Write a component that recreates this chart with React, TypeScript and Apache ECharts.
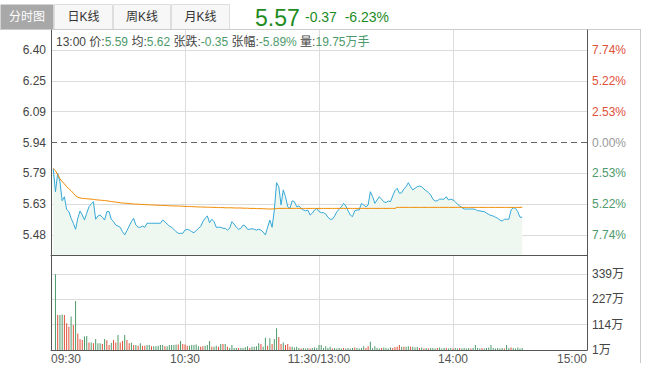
import React, { useEffect, useRef } from 'react';
import * as echarts from 'echarts';

const prevClose = 5.94;
const lastPriceText = '5.57';
const changeText = '-0.37  -6.23%';
const tabLabels = ['分时图', '日K线', '周K线', '月K线'];
const infoParts = [
  ['13:00 价:', '5.59'],
  [' 均:', '5.62'],
  [' 张跌:', '-0.35'],
  [' 张幅:', '-5.89%'],
  [' 量:', '19.75万手'],
];

const priceTickValues = [6.4, 6.2467, 6.0933, 5.94, 5.7867, 5.6333, 5.48];
const priceTickLabels = ['6.40', '6.25', '6.09', '5.94', '5.79', '5.63', '5.48'];
const pctTickLabels = ['7.74%', '5.22%', '2.53%', '0.00%', '2.53%', '5.22%', '7.74%'];
const volTickValues = [1, 114, 227, 339];
const volTickLabels = ['1万', '114万', '227万', '339万'];
const timeTickValues = [0, 60, 120, 180, 240];
const timeTickLabels = ['09:30', '10:30', '11:30/13:00', '14:00', '15:00'];

// minute index of first point = 1
const prices = [
  5.81, 5.695, 5.787, 5.745, 5.65, 5.67, 5.607, 5.596, 5.563, 5.538,
  5.508, 5.563, 5.599, 5.579, 5.554, 5.588, 5.62, 5.634, 5.645, 5.558,
  5.574, 5.579, 5.568, 5.554, 5.596, 5.596, 5.558, 5.546, 5.529, 5.524,
  5.518, 5.496, 5.48, 5.501, 5.524, 5.546, 5.563, 5.529, 5.518, 5.518,
  5.524, 5.518, 5.538, 5.538, 5.538, 5.538, 5.538, 5.538, 5.538, 5.554,
  5.546, 5.534, 5.524, 5.518, 5.508, 5.496, 5.488, 5.488, 5.488, 5.504,
  5.508, 5.504, 5.496, 5.491, 5.501, 5.513, 5.521, 5.546, 5.563, 5.574,
  5.541, 5.558, 5.546, 5.518, 5.518, 5.518, 5.513, 5.513, 5.504, 5.513,
  5.546, 5.534, 5.518, 5.508, 5.513, 5.529, 5.524, 5.508, 5.508, 5.511,
  5.508, 5.504, 5.508, 5.504, 5.494, 5.48, 5.518, 5.554, 5.518, 5.604,
  5.74, 5.72, 5.629, 5.704, 5.67, 5.62, 5.612, 5.65, 5.645, 5.62,
  5.624, 5.612, 5.604, 5.6, 5.604, 5.579, 5.588, 5.604, 5.612, 5.596,
  5.591, 5.591, 5.584, 5.568, 5.558, 5.558, 5.574, 5.596, 5.607, 5.62,
  5.637, 5.624, 5.6, 5.579, 5.571, 5.6, 5.604, 5.604, 5.637, 5.629,
  5.62, 5.629, 5.695, 5.67, 5.637, 5.654, 5.67, 5.658, 5.645, 5.641,
  5.649, 5.645, 5.674, 5.7, 5.712, 5.687, 5.69, 5.708, 5.72, 5.74,
  5.72, 5.704, 5.712, 5.72, 5.723, 5.72, 5.708, 5.7, 5.691, 5.679,
  5.658, 5.649, 5.65, 5.658, 5.658, 5.658, 5.67, 5.654, 5.658, 5.654,
  5.645, 5.633, 5.624, 5.616, 5.609, 5.609, 5.609, 5.609, 5.609, 5.607,
  5.6, 5.6, 5.597, 5.596, 5.588, 5.582, 5.577, 5.574, 5.568, 5.563,
  5.554, 5.549, 5.558, 5.558, 5.558, 5.604, 5.615, 5.612, 5.596, 5.568,
  5.568,
];

const avgPrices = [
  5.81, 5.8, 5.78, 5.76, 5.745, 5.735, 5.72, 5.71, 5.7, 5.688,
  5.675, 5.668, 5.664, 5.662, 5.661, 5.66, 5.659, 5.658, 5.657, 5.655,
  5.654, 5.653, 5.652, 5.651, 5.65, 5.648, 5.646, 5.645, 5.643, 5.642,
  5.64, 5.639, 5.638, 5.637, 5.636, 5.635, 5.634, 5.633, 5.633, 5.632,
  5.631, 5.631, 5.63, 5.63, 5.629, 5.629, 5.628, 5.628, 5.627, 5.627,
  5.626, 5.626, 5.625, 5.625, 5.624, 5.624, 5.624, 5.623, 5.623, 5.622,
  5.622, 5.621, 5.621, 5.62, 5.62, 5.619, 5.619, 5.619, 5.618, 5.618,
  5.618, 5.617, 5.617, 5.617, 5.616, 5.616, 5.616, 5.615, 5.615, 5.615,
  5.615, 5.614, 5.614, 5.614, 5.614, 5.613, 5.613, 5.613, 5.612, 5.612,
  5.612, 5.611, 5.611, 5.611, 5.61, 5.61, 5.609, 5.609, 5.609, 5.61,
  5.611, 5.612, 5.612, 5.612, 5.612, 5.612, 5.612, 5.612, 5.612, 5.612,
  5.612, 5.612, 5.612, 5.612, 5.612, 5.612, 5.612, 5.612, 5.612, 5.612,
  5.612, 5.612, 5.612, 5.612, 5.612, 5.612, 5.612, 5.612, 5.612, 5.612,
  5.612, 5.612, 5.612, 5.612, 5.612, 5.612, 5.612, 5.612, 5.612, 5.612,
  5.612, 5.612, 5.612, 5.612, 5.612, 5.612, 5.612, 5.612, 5.612, 5.612,
  5.612, 5.612, 5.612, 5.612, 5.617, 5.617, 5.617, 5.617, 5.617, 5.617,
  5.617, 5.617, 5.617, 5.617, 5.617, 5.617, 5.617, 5.617, 5.617, 5.617,
  5.617, 5.617, 5.617, 5.617, 5.617, 5.617, 5.617, 5.617, 5.617, 5.617,
  5.617, 5.617, 5.617, 5.617, 5.617, 5.617, 5.617, 5.617, 5.617, 5.617,
  5.617, 5.617, 5.617, 5.617, 5.617, 5.617, 5.617, 5.617, 5.617, 5.617,
  5.617, 5.617, 5.617, 5.617, 5.617, 5.617, 5.617, 5.617, 5.617, 5.617,
  5.617,
];

// volume in 万, per minute (first = minute 1)
const volumes = [
  0, 339, 157, 157, 160, 157, 120, 105, 150, 113,
  220, 75, 50, 46, 61, 64, 35, 35, 31, 50,
  31, 31, 28, 50, 44, 23, 33, 46, 35, 68,
  35, 41, 68, 46, 31, 33, 23, 23, 20, 31,
  20, 20, 23, 23, 18, 18, 18, 20, 23, 23,
  18, 18, 23, 23, 23, 25, 25, 41, 28, 25,
  20, 20, 23, 23, 25, 18, 15, 18, 20, 23,
  41, 15, 15, 20, 15, 28, 28, 28, 15, 10,
  23, 10, 10, 10, 10, 10, 13, 18, 10, 16,
  16, 18, 31, 28, 15, 56, 20, 53, 28, 50,
  98, 59, 28, 35, 23, 28, 16, 16, 12, 16,
  10, 8, 10, 8, 10, 8, 10, 12, 10, 23,
  23, 10, 18, 10, 15, 8, 10, 8, 10, 8,
  10, 8, 10, 8, 10, 12, 10, 8, 10, 18,
  10, 18, 38, 10, 18, 10, 8, 10, 12, 10,
  8, 12, 10, 14, 15, 23, 15, 15, 15, 18,
  15, 15, 12, 14, 10, 12, 8, 10, 8, 10,
  10, 8, 10, 12, 8, 10, 10, 8, 10, 8,
  10, 8, 10, 8, 10, 8, 10, 8, 10, 23,
  10, 8, 10, 8, 10, 12, 23, 10, 8, 10,
  8, 10, 8, 23, 10, 12, 10, 8, 12, 8,
  10,
];
// 1 = up (red), 0 = down (green)
const volumeUp = [
  0, 0, 1, 0, 0, 1, 1, 1, 0, 1,
  0, 1, 1, 1, 0, 0, 1, 0, 1, 0,
  0, 0, 1, 0, 1, 1, 0, 1, 1, 0,
  1, 1, 0, 1, 1, 0, 1, 0, 1, 0,
  1, 1, 0, 0, 1, 0, 0, 0, 0, 0,
  1, 0, 0, 0, 0, 0, 1, 0, 1, 1,
  1, 0, 0, 0, 0, 0, 1, 1, 0, 0,
  0, 1, 0, 0, 1, 0, 1, 0, 1, 0,
  0, 0, 0, 1, 0, 0, 0, 0, 1, 0,
  0, 0, 0, 1, 0, 0, 1, 0, 1, 0,
  0, 1, 1, 0, 1, 1, 1, 0, 0, 0,
  0, 1, 0, 0, 0, 1, 0, 0, 0, 0,
  0, 0, 0, 0, 0, 1, 0, 0, 0, 0,
  1, 0, 0, 0, 0, 1, 0, 0, 0, 0,
  1, 1, 0, 0, 0, 0, 0, 1, 0, 0,
  0, 0, 1, 1, 1, 1, 0, 1, 0, 0,
  1, 0, 0, 0, 1, 0, 1, 0, 1, 0,
  0, 0, 1, 0, 0, 0, 1, 0, 0, 1,
  0, 0, 1, 0, 0, 0, 0, 1, 0, 0,
  0, 0, 1, 0, 0, 0, 0, 0, 0, 0,
  0, 0, 1, 0, 0, 1, 0, 0, 0, 0,
  0,
];

const FONT = "Arial, 'Liberation Sans', 'Noto Sans CJK SC', sans-serif";
const GREEN = '#4e9a6b';
const RED = '#e0513a';
const BIG_GREEN = '#1f8c1f';

function nearestIndex(list: number[], v: number) {
  let best = 0;
  for (let k = 1; k < list.length; k++) {
    if (Math.abs(list[k] - v) < Math.abs(list[best] - v)) best = k;
  }
  return best;
}

export default function App() {
  const ref = useRef<HTMLDivElement>(null);
  useEffect(() => {
    if (!ref.current) return;
    const chart = echarts.init(ref.current, undefined, { renderer: 'svg' });
    const yMin = 5.38;
    const yMax = 6.5;
    const gridTicks = priceTickValues.filter((v) => v !== prevClose);

    const tabWidths = [54, 59, 58, 59];
    const tabGraphics: any[] = [];
    let tx = 0;
    tabLabels.forEach((t, k) => {
      const w = tabWidths[k];
      const active = k === 0;
      tabGraphics.push({
        type: 'rect',
        shape: { x: tx + 0.5, y: 4.5, width: w - 1, height: 25 },
        style: active ? { fill: '#a8a8a8' } : { fill: '#f7f7f7', stroke: '#dedede', lineWidth: 1 },
      });
      tabGraphics.push({
        type: 'text',
        x: tx + w / 2,
        y: 17,
        style: {
          text: t,
          fill: active ? '#ffffff' : '#333333',
          font: `12px ${FONT}`,
          align: 'center',
          verticalAlign: 'middle',
        },
      });
      tx += w;
    });

    let richText = '';
    infoParts.forEach(([l, v]) => {
      richText += `{l|${l}}{v|${v}}`;
    });

    const option: any = {
      animation: false,
      textStyle: { fontFamily: FONT },
      grid: [
        { left: 51, top: 30, width: 536, height: 225 },
        { left: 51, top: 255, width: 536, height: 95 },
      ],
      xAxis: [
        {
          gridIndex: 0,
          type: 'value',
          min: 0,
          max: 240,
          interval: 60,
          axisLine: { show: true, onZero: false, lineStyle: { color: '#555' } },
          axisTick: { show: false },
          axisLabel: { show: false },
          splitLine: { show: true, lineStyle: { color: '#dcdcdc' } },
        },
        {
          gridIndex: 1,
          type: 'value',
          min: 0,
          max: 240,
          interval: 60,
          axisLine: { show: true, onZero: false, lineStyle: { color: '#555' } },
          axisTick: { show: false },
          axisLabel: {
            show: true,
            color: '#555',
            fontSize: 12,
            margin: 3,
            showMinLabel: true,
            showMaxLabel: true,
            alignMinLabel: 'left',
            alignMaxLabel: 'right',
            formatter: (v: number) => timeTickLabels[nearestIndex(timeTickValues, v)],
          },
          splitLine: { show: true, lineStyle: { color: '#dcdcdc' } },
        },
      ],
      yAxis: [
        {
          gridIndex: 0,
          type: 'value',
          position: 'left',
          min: yMin,
          max: yMax,
          axisLine: { show: true, onZero: false, lineStyle: { color: '#555' } },
          axisTick: { show: false, customValues: gridTicks },
          axisLabel: {
            customValues: priceTickValues,
            color: '#444',
            fontSize: 12,
            margin: 5,
            formatter: (v: number) => priceTickLabels[nearestIndex(priceTickValues, Number(v))],
          },
          splitLine: { show: true, lineStyle: { color: '#dcdcdc' } },
        },
        {
          gridIndex: 0,
          type: 'value',
          position: 'right',
          min: yMin,
          max: yMax,
          axisLine: { show: true, onZero: false, lineStyle: { color: '#555' } },
          axisTick: { show: false, customValues: priceTickValues },
          axisLabel: {
            customValues: priceTickValues,
            fontSize: 12,
            margin: 5,
            formatter: (v: number) => pctTickLabels[nearestIndex(priceTickValues, Number(v))],
            color: (v: any) => {
              const n = Number(v);
              if (n > prevClose + 1e-6) return RED;
              if (n < prevClose - 1e-6) return GREEN;
              return '#999';
            },
          },
          splitLine: { show: false },
        },
        {
          gridIndex: 1,
          type: 'value',
          position: 'right',
          min: 1,
          max: 425,
          axisLine: { show: true, onZero: false, lineStyle: { color: '#555' } },
          axisTick: { show: false, customValues: volTickValues },
          axisLabel: {
            customValues: volTickValues,
            color: '#444',
            fontSize: 12,
            margin: 5,
            formatter: (v: number) => volTickLabels[nearestIndex(volTickValues, Number(v))],
          },
          splitLine: { show: true, lineStyle: { color: '#dcdcdc' } },
        },
        {
          gridIndex: 1,
          type: 'value',
          position: 'left',
          min: 1,
          max: 425,
          axisLine: { show: true, onZero: false, lineStyle: { color: '#555' } },
          axisTick: { show: false },
          axisLabel: { show: false },
          splitLine: { show: false },
        },
      ],
      series: [
        {
          type: 'line',
          name: 'price',
          xAxisIndex: 0,
          yAxisIndex: 0,
          data: prices.map((p, k) => [k + 1, p]),
          symbol: 'none',
          lineStyle: { color: '#35a8d7', width: 1 },
          areaStyle: { color: '#eff7f1', opacity: 1, origin: 'start' },
          z: 3,
          markLine: {
            silent: true,
            symbol: ['none', 'none'],
            label: { show: false },
            lineStyle: { color: '#666', type: [6, 4], width: 1 },
            data: [{ yAxis: prevClose }],
          },
        },
        {
          type: 'line',
          name: 'avg',
          xAxisIndex: 0,
          yAxisIndex: 0,
          data: avgPrices.map((p, k) => [k + 1, p]),
          symbol: 'none',
          lineStyle: { color: '#f28a00', width: 1 },
          z: 4,
        },
        {
          type: 'bar',
          name: 'volume',
          xAxisIndex: 1,
          yAxisIndex: 2,
          barWidth: 1,
          data: volumes.map((v, k) => ({
            value: [k + 1, v],
            itemStyle: { color: volumeUp[k] ? RED : GREEN },
          })),
        },
      ],
      graphic: [
        ...tabGraphics,
        {
          type: 'line',
          shape: { x1: 0, y1: 29.5, x2: 641, y2: 29.5 },
          style: { stroke: '#cccccc', lineWidth: 1 },
        },
        {
          type: 'line',
          shape: { x1: 640.5, y1: 29.5, x2: 640.5, y2: 363 },
          style: { stroke: '#cccccc', lineWidth: 1 },
        },
        {
          type: 'text',
          x: 255,
          y: 18,
          style: {
            text: lastPriceText,
            fill: BIG_GREEN,
            font: `23px ${FONT}`,
            verticalAlign: 'middle',
          },
        },
        {
          type: 'text',
          x: 305,
          y: 17,
          style: {
            text: changeText,
            fill: BIG_GREEN,
            font: `14px ${FONT}`,
            verticalAlign: 'middle',
          },
        },
        {
          type: 'text',
          x: 56,
          y: 42,
          z: 10,
          style: {
            text: richText,
            verticalAlign: 'middle',
            font: `12px ${FONT}`,
            rich: {
              l: { fill: '#444', fontSize: 12, fontFamily: FONT },
              v: { fill: GREEN, fontSize: 12, fontFamily: FONT },
            },
          },
        },
      ],
    };
    chart.setOption(option);
    return () => chart.dispose();
  }, []);
  return (
    <div
      ref={ref}
      style={{ position: 'fixed', left: 0, top: 0, width: 650, height: 370, background: '#fff' }}
    />
  );
}
